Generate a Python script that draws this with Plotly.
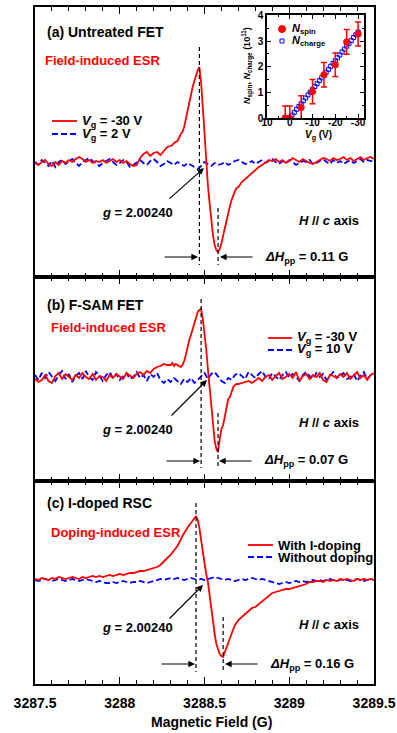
import numpy as np
import plotly.graph_objects as go

# ---------------- data ----------------
field_range = [3287.5, 3289.5]
x_tickvals = [3287.5, 3288.0, 3288.5, 3289.0, 3289.5]
x_ticktext = ["3287.5", "3288", "3288.5", "3289", "3289.5"]

# field grids (G): red traces are sampled finer around the resonance
field_red = np.round(np.concatenate([
    3287.50 + 0.02 * np.arange(40),
    3288.30 + 0.01 * np.arange(40),
    3288.70 + 0.02 * np.arange(41)]), 2)
field_blue = np.round(3287.50 + 0.02 * np.arange(101), 2)

# (a) Untreated FET, Vg = -30 V (arb. units)
esr_a_on = [
    0, -2, 1, 3, -1, -3, 1, -2, 2, 0, 3, 1, 4, 6, 4, 1, 3, 0, 2, 1,
    3, 0, 2, 4, 1, 3, 0, 2, -1, -3, -2, 5, 9, 11, 7, 10, 11, 8, 12, 16,
    17, 18, 20, 21, 22, 25, 29, 31, 36, 44, 53, 62, 70, 76, 82, 88, 93, 96, 80, 56,
    28, 2, -22, -40, -58, -72, -82, -87, -89, -86, -80, -72, -64, -56, -49, -43, -37, -32, -28, -25,
    -24, -19, -16, -12, -9, -6, -4, -2, 1, 3, 2, 4, 1, 3, 0, 2, 5, 3, 1, 4,
    2, 0, -1, 1, 3, 5, 4, 2, 5, 3, 4, 6, 3, 5, 2, 4, 6, 3, 5, 6, 4]
# (a) Vg = 2 V
esr_a_off = [
    1, -2, 3, 0, -3, 2, -4, 1, 3, -1, 2, 4, 0, -3, 1, 3, 5, 2, -1, -3,
    0, 2, 4, 1, -2, 0, 3, 1, -4, -2, 1, 3, 0, -2, 2, 4, 1, -3, -1, 2,
    0, -2, 1, -1, -3, 0, -2, -4, -6, -3, 1, -1, -3, 0, -2, -1, 1, -2, 0, 2,
    3, 1, -1, 0, 2, -1, 1, 3, 0, 2, 4, 1, -1, 2, 0, 3, 1, -2, 0, 2,
    1, 3, -1, 0, 2, 4, 1, -1, 3, 0, 2, -1, 1, 3, 0, 2, 4, 1, 3, 2, 3]

# (b) F-SAM FET, Vg = -30 V
esr_b_on = [
    -2, -5, -3, 2, -4, -6, 1, 4, -2, 3, 0, -3, 2, -1, 4, 0, -2, 3, -3, 1,
    0, -4, 2, -1, 3, 0, -2, 4, 1, -1, 3, 5, 2, 6, 4, 8, 10, 11, 13, 12,
    12, 14, 11, 13, 12, 11, 10, 12, 16, 22, 30, 37, 42, 48, 54, 60, 65, 67, 68, 58,
    45, 28, 8, -12, -32, -50, -64, -72, -75, -62, -52, -48, -38, -30, -22, -20, -14, -10, -8, -7,
    -7, -6, -5, -4, -6, -3, -1, -4, 0, 2, -3, 1, 4, -2, 0, 3, -1, 5, -4, 1,
    3, -2, 2, 0, 4, -3, -5, 2, 1, -1, 3, 0, 4, -2, 1, 5, -1, 2, -3, 2, 4]
# (b) Vg = 10 V
esr_b_off = [
    2, -3, 4, -1, 5, 0, -4, 2, 6, -2, 3, -5, 1, 4, -2, 6, 0, -3, 5, 1,
    -4, 2, 5, -1, 3, -3, 1, 4, -2, 0, 5, -1, 2, -4, 3, 0, 4, -3, -6, -2,
    -5, -1, -4, -7, -2, -5, -1, -6, -3, 1, 4, -2, 3, 5, 0, -4, -6, -1, -3, 2,
    4, 1, -2, 5, 2, -1, 3, 6, 0, -2, 4, 1, -3, 2, 5, -1, 3, 0, -4, 2,
    5, 1, -2, 4, 0, 3, -3, 1, 5, -1, 2, 4, -2, 0, 3, -4, 1, 5, -2, 2, 3]

# (c) I-doped RSC, with I-doping
esr_c_on = [
    1, 0, 2, 1, 0, 2, 1, 3, 2, 1, 2, 3, 2, 1, 3, 2, 3, 4, 3, 4,
    3, 4, 5, 4, 5, 6, 5, 6, 7, 7, 8, 9, 9, 10, 11, 12, 13, 15, 19, 22,
    25, 27, 29, 31, 34, 37, 41, 44, 47, 50, 52, 55, 57, 59, 61, 64, 60, 52, 40, 28,
    16, 6, -2, -16, -30, -42, -54, -64, -70, -74, -76, -77, -72, -67, -62, -58, -54, -49, -45, -42,
    -40, -37, -34, -31, -28, -27, -24, -21, -18, -15, -13, -12, -11, -10, -9, -9, -8, -7, -6, -5,
    -4, -2, -2, -1, -1, -2, 0, -1, 0, -1, 1, 0, 1, 0, -1, 1, 0, 1, 0, 1, 0]
# (c) without doping
esr_c_off = [
    0, -1, 0, 1, 0, -1, 0, 1, 0, -1, 0, 1, 0, -1, 0, 1, 0, -1, -2, -1,
    -2, -3, -3, -2, -3, -2, -1, -2, -3, -2, -2, -1, -2, -3, -2, -1, 0, 1, 0, 1,
    2, 1, 2, 1, 0, 1, 2, 1, 0, 1, 0, 1, 2, 3, 2, 1, 0, 1, 0, -1,
    0, 1, 0, 1, 2, 1, 0, 1, 0, -1, -2, -3, -4, -3, -2, -3, -2, -1, -2, -1,
    -2, -1, 0, -1, 0, -1, 0, 1, 0, -1, 0, 1, 0, -1, 0, 1, 0, -1, 0, 1, 0]

# inset: spin and charge densities (10^11)
vg_spin = [2, 0, -5, -10, -15, -20, -25, -30]
n_spin = [0.0, 0.0, 0.41, 1.03, 1.69, 2.08, 2.97, 3.28]
n_spin_err = [0.47, 0.47, 0.46, 0.47, 0.48, 0.46, 0.48, 0.47]
vg_charge = [0, -1, -2, -3, -4, -5, -6, -7, -8, -9, -10, -11, -12, -13, -14, -15,
             -16, -17, -18, -19, -20, -21, -22, -23, -24, -25, -26, -27, -28, -29, -30]
n_charge = [0.00, 0.11, 0.22, 0.34, 0.45, 0.56, 0.67, 0.78, 0.90, 1.01, 1.12, 1.23,
            1.34, 1.46, 1.57, 1.68, 1.79, 1.90, 2.02, 2.13, 2.24, 2.35, 2.46, 2.58,
            2.69, 2.80, 2.91, 3.02, 3.14, 3.25, 3.36]
inset_xticks = [10, 0, -10, -20, -30]
inset_xticktext = ["10", "0", "-10", "-20", "-30"]
inset_yticks = [0, 1, 2, 3, 4]

panel_titles = ["(a) Untreated FET", "(b) F-SAM FET", "(c) I-doped RSC"]
panel_subtitles = ["Field-induced ESR", "Field-induced ESR", "Doping-induced ESR"]
legend_on = ["<i>V</i><sub>g</sub> = -30 V", "<i>V</i><sub>g</sub> = -30 V", "With I-doping"]
legend_off = ["<i>V</i><sub>g</sub> = 2 V", "<i>V</i><sub>g</sub> = 10 V", "Without doping"]
dhpp_text = ["0.11 G", "0.07 G", "0.16 G"]

# ---------------- styling / layout ----------------
FONT = "Liberation Sans, Arial, sans-serif"
RED = "#ff0000"
BLUE = "#0000ff"

W, H = 397, 733
def px_x(p):
    return p / W
def px_y(p):
    return 1 - p / H

x_dom = [px_x(35), px_x(374)]
y_doms = [[px_y(277), px_y(7)], [px_y(481), px_y(277)], [px_y(684), px_y(481)]]
y_ranges = [[-114, 156], [-104, 100], [-104, 99]]

ons = [esr_a_on, esr_b_on, esr_c_on]
offs = [esr_a_off, esr_b_off, esr_c_off]

fig = go.Figure()

for i in range(3):
    xa = "x" if i == 0 else f"x{i+1}"
    ya = "y" if i == 0 else f"y{i+1}"
    fig.add_trace(go.Scatter(x=field_blue, y=offs[i], mode="lines",
                             line=dict(color=BLUE, width=1.8, dash="6px,3px"),
                             xaxis=xa, yaxis=ya, showlegend=False))
    fig.add_trace(go.Scatter(x=field_red, y=ons[i], mode="lines",
                             line=dict(color=RED, width=1.8),
                             xaxis=xa, yaxis=ya, showlegend=False))

# inset
fig.add_trace(go.Scatter(x=vg_charge, y=n_charge, mode="markers",
                         marker=dict(symbol="square-open", size=4, color=BLUE,
                                     line=dict(width=1, color=BLUE)),
                         xaxis="x4", yaxis="y4", showlegend=False))
fig.add_trace(go.Scatter(x=vg_spin, y=n_spin, mode="markers",
                         marker=dict(symbol="circle", size=7, color=RED),
                         error_y=dict(type="data", array=n_spin_err, color=RED,
                                      thickness=1.5, width=3),
                         xaxis="x4", yaxis="y4", showlegend=False))

layout = dict(width=W, height=H, autosize=False, margin=dict(l=0, r=0, t=0, b=0, pad=0),
              paper_bgcolor="white", plot_bgcolor="white",
              font=dict(family=FONT, color="black"), showlegend=False)

for i in range(3):
    xk = "xaxis" if i == 0 else f"xaxis{i+1}"
    yk = "yaxis" if i == 0 else f"yaxis{i+1}"
    ya = "y" if i == 0 else f"y{i+1}"
    xa = "x" if i == 0 else f"x{i+1}"
    layout[xk] = dict(domain=x_dom, anchor=ya, range=field_range, automargin=False,
                      tickvals=x_tickvals, ticktext=x_ticktext,
                      showticklabels=(i == 2), ticks="inside", ticklen=7, tickwidth=1.2,
                      tickcolor="black", showline=True, linecolor="black", linewidth=1.8,
                      mirror="allticks", showgrid=False, zeroline=False,
                      ticklabelstandoff=5,
                      tickfont=dict(size=14, family=FONT, weight="bold"),
                      minor=dict(dtick=0.1, tick0=3287.5, ticks="inside", ticklen=4,
                                 tickwidth=1.2, tickcolor="black", showgrid=False))
    layout[yk] = dict(domain=y_doms[i], anchor=xa, range=y_ranges[i], automargin=False,
                      showticklabels=False, ticks="", showline=True, linecolor="black",
                      linewidth=1.8, mirror=True, showgrid=False, zeroline=False)

layout["xaxis4"] = dict(domain=[px_x(267), px_x(364)], anchor="y4", range=[10, -32.6],
                        automargin=False,
                        tickvals=inset_xticks, ticktext=inset_xticktext,
                        ticks="inside", ticklen=4, tickwidth=1.2, tickcolor="black",
                        showline=True, linecolor="black", linewidth=1.5, mirror="allticks",
                        showgrid=False, zeroline=False, ticklabelstandoff=-6,
                        tickfont=dict(size=10, family=FONT, weight="bold"),
                        minor=dict(dtick=5, tick0=0, ticks="inside", ticklen=2,
                                   tickcolor="black", showgrid=False))
layout["yaxis4"] = dict(domain=[px_y(118), px_y(15)], anchor="x4", range=[0, 4.02],
                        automargin=False,
                        tickvals=inset_yticks, ticks="inside", ticklen=4, tickwidth=1.2,
                        tickcolor="black", showline=True, linecolor="black", linewidth=1.5,
                        mirror="allticks", showgrid=False, zeroline=False,
                        tickfont=dict(size=10, family=FONT, weight="bold"),
                        minor=dict(dtick=0.5, tick0=0, ticks="inside", ticklen=2,
                                   tickcolor="black", showgrid=False))

fig.update_layout(**layout)

# ---------------- annotations & guide lines ----------------
def F(p):
    # horizontal pixel -> field (G)
    return field_range[0] + (p - 35) / (374 - 35) * (field_range[1] - field_range[0])

baselines = [163, 377, 580]
P = [
    dict(title_y=32, sub_y=60, sub_x=43, lx0=52, lx1=77, ltx=80, ly_on=121, ly_off=134,
         g_y=212, ah=(204, 168), ao=(-36, 32), d_top=47, d2_top=208, d_bot=265,
         h_y=220, ha_y=257, lh=198, rh=220, dh_x=263),
    dict(title_y=305, sub_y=328, sub_x=49, lx0=268, lx1=292, ltx=295, ly_on=338, ly_off=350,
         g_y=430, ah=(207, 380), ao=(-37, 37), d_top=299, d2_top=413, d_bot=468,
         h_y=423, ha_y=461, lh=200, rh=219, dh_x=262),
    dict(title_y=503, sub_y=532, sub_x=49, lx0=248, lx1=273, ltx=276, ly_on=545, ly_off=557,
         g_y=627, ah=(203, 585), ao=(-35, 35), d_top=503, d2_top=617, d_bot=672,
         h_y=624, ha_y=664, lh=195, rh=225, dh_x=268),
]

annotations = []
shapes = []
for i in range(3):
    xa = "x" if i == 0 else f"x{i+1}"
    ya = "y" if i == 0 else f"y{i+1}"
    b = baselines[i]
    p = P[i]
    Y = lambda py, b=b: b - py
    on = np.array(ons[i])
    x_peak = float(field_red[int(np.argmax(on))])
    x_min = float(field_red[int(np.argmin(on))])

    def txt(x, y, text, size=13, color="black", xanchor="left", xa=xa, ya=ya):
        annotations.append(dict(x=x, y=y, xref=xa, yref=ya, text=f"<b>{text}</b>",
                                showarrow=False, xanchor=xanchor, yanchor="middle",
                                font=dict(size=size, color=color, family=FONT)))

    txt(F(45), Y(p["title_y"]), panel_titles[i], size=14)
    txt(F(p["sub_x"]), Y(p["sub_y"]), panel_subtitles[i], size=13, color=RED)
    # legend keys
    shapes.append(dict(type="line", xref=xa, yref=ya, x0=F(p["lx0"]), x1=F(p["lx1"]),
                       y0=Y(p["ly_on"]), y1=Y(p["ly_on"]), line=dict(color=RED, width=1.8)))
    shapes.append(dict(type="line", xref=xa, yref=ya, x0=F(p["lx0"]), x1=F(p["lx1"]),
                       y0=Y(p["ly_off"]), y1=Y(p["ly_off"]),
                       line=dict(color=BLUE, width=1.8, dash="6px,3px")))
    txt(F(p["ltx"]), Y(p["ly_on"]), legend_on[i], size=13)
    txt(F(p["ltx"]), Y(p["ly_off"]), legend_off[i], size=13)
    # g-value label with arrow
    txt(F(137), Y(p["g_y"]), "<i>g</i> = 2.00240", size=13, xanchor="center")
    annotations.append(dict(x=F(p["ah"][0]), y=Y(p["ah"][1]), xref=xa, yref=ya, text="",
                            showarrow=True, ax=p["ao"][0], ay=p["ao"][1],
                            arrowhead=2, arrowsize=1.1, arrowwidth=1.2, arrowcolor="black"))
    txt(F(297), Y(p["h_y"]), "<i>H</i> // <i>c</i> axis", size=13)
    # dashed guide lines at peak positions
    shapes.append(dict(type="line", xref=xa, yref=ya, x0=x_peak, x1=x_peak,
                       y0=Y(p["d_top"]), y1=Y(p["d_bot"]),
                       line=dict(color="black", width=1.2, dash="4px,3px")))
    shapes.append(dict(type="line", xref=xa, yref=ya, x0=x_min, x1=x_min,
                       y0=Y(p["d2_top"]), y1=Y(p["d_bot"]),
                       line=dict(color="black", width=1.2, dash="4px,3px")))
    # peak-to-peak arrows
    annotations.append(dict(x=F(p["lh"]), y=Y(p["ha_y"]), xref=xa, yref=ya, text="",
                            showarrow=True, ax=-35, ay=0, arrowhead=2, arrowsize=1.1,
                            arrowwidth=1.2, arrowcolor="black"))
    annotations.append(dict(x=F(p["rh"]), y=Y(p["ha_y"]), xref=xa, yref=ya, text="",
                            showarrow=True, ax=34, ay=0, arrowhead=2, arrowsize=1.1,
                            arrowwidth=1.2, arrowcolor="black"))
    txt(F(p["dh_x"]), Y(p["ha_y"]), f"<i>ΔH</i><sub>pp</sub> = {dhpp_text[i]}", size=13)

# x-axis title
annotations.append(dict(x=px_x(212), y=px_y(722), xref="paper", yref="paper",
                        text="<b>Magnetic Field (G)</b>", showarrow=False,
                        xanchor="center", yanchor="middle",
                        font=dict(size=14, family=FONT)))
# inset axis titles
annotations.append(dict(x=px_x(318), y=px_y(135), xref="paper", yref="paper",
                        text="<b><i>V</i><sub>g</sub> (V)</b>", showarrow=False,
                        xanchor="center", yanchor="middle", font=dict(size=10, family=FONT)))
annotations.append(dict(x=px_x(247), y=px_y(66), xref="paper", yref="paper",
                        text="<b><i>N</i><sub>spin</sub>, <i>N</i><sub>charge</sub> (10<sup>11</sup>)</b>",
                        showarrow=False, textangle=-90, xanchor="center", yanchor="middle",
                        font=dict(size=9, family=FONT)))
# inset legend
shapes.append(dict(type="circle", xref="paper", yref="paper", xsizemode="pixel",
                   ysizemode="pixel", xanchor=px_x(282), yanchor=px_y(29),
                   x0=-3.5, x1=3.5, y0=-3.5, y1=3.5, fillcolor=RED, line=dict(color=RED, width=1)))
shapes.append(dict(type="rect", xref="paper", yref="paper", xsizemode="pixel",
                   ysizemode="pixel", xanchor=px_x(282), yanchor=px_y(41),
                   x0=-2, x1=2, y0=-2, y1=2, fillcolor="white", line=dict(color=BLUE, width=1)))
annotations.append(dict(x=px_x(290), y=px_y(29), xref="paper", yref="paper",
                        text="<b><i>N</i><sub>spin</sub></b>", showarrow=False,
                        xanchor="left", yanchor="middle", font=dict(size=11, family=FONT)))
annotations.append(dict(x=px_x(290), y=px_y(41), xref="paper", yref="paper",
                        text="<b><i>N</i><sub>charge</sub></b>", showarrow=False,
                        xanchor="left", yanchor="middle", font=dict(size=11, family=FONT)))

fig.update_layout(annotations=annotations, shapes=shapes)
fig.write_html("out.html", config={"responsive": False, "displayModeBar": False},
               post_script="document.body.style.margin='0';document.body.style.overflow='hidden';")
